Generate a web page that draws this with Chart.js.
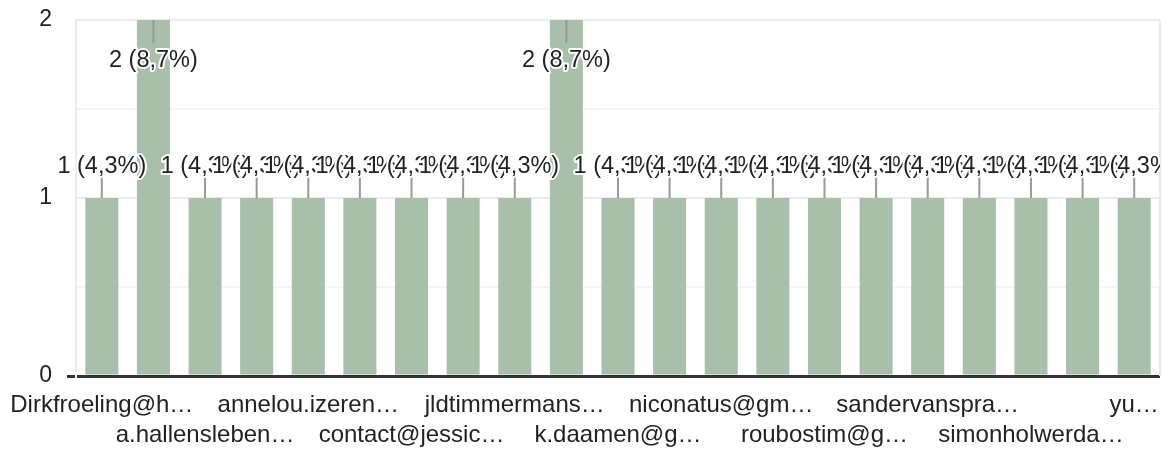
<!DOCTYPE html>
<html>
<head>
<meta charset="utf-8">
<script src="https://cdn.jsdelivr.net/npm/chart.js@4.4.1/dist/chart.umd.min.js"></script>
<style>
  body { margin: 0; background: #fff; }
  canvas { display: block; }
</style>
</head>
<body>
<canvas id="grafico" width="1174" height="454"></canvas>
<script>
// categorie (solo quelle leggibili, le altre sono nascoste dal grafico originale)
var categorie = [
    "Dirkfroeling@h…", "", "a.hallensleben…", "", "annelou.izeren…", "",
    "contact@jessic…", "", "jldtimmermans…", "", "k.daamen@g…", "",
    "niconatus@gm…", "", "roubostim@g…", "", "sandervanspra…", "",
    "simonholwerda…", "", "yu…"
];
var risposte = [1, 2, 1, 1, 1, 1, 1, 1, 1, 2, 1, 1, 1, 1, 1, 1, 1, 1, 1, 1, 1];
var tickY = [0, 1, 2];

var FONT = "'Liberation Sans', Arial, sans-serif";
var totale = risposte.reduce(function(a, b){ return a + b; }, 0);

// etichette sopra le barre, stile Google Forms (con alone bianco)
var etichette = {
    id: "etichette",
    afterDatasetsDraw: function(chart){
        let ctx = chart.ctx;
        let area = chart.chartArea;
        let meta = chart.getDatasetMeta(0);
        ctx.save();
        ctx.beginPath();
        ctx.rect(0, 0, area.right, chart.height);
        ctx.clip();
        ctx.font = "23.5px " + FONT;
        ctx.textAlign = "center";
        ctx.textBaseline = "alphabetic";
        ctx.lineJoin = "round";
        for(let i = 0; i < meta.data.length; i++){
            let bar = meta.data[i];
            let v = risposte[i];
            let testo = v + " (" + (v / totale * 100).toFixed(1).replace(".", ",") + "%)";
            let x = bar.x, yTesto;
            ctx.strokeStyle = "#999999";
            ctx.lineWidth = 2;
            ctx.beginPath();
            if(bar.y <= area.top + 1){
                // barra piena: etichetta dentro
                ctx.moveTo(x, area.top);
                ctx.lineTo(x, area.top + 23);
                yTesto = area.top + 47;
            } else {
                ctx.moveTo(x, bar.y);
                ctx.lineTo(x, bar.y - 21);
                yTesto = bar.y - 25;
            }
            ctx.stroke();
            ctx.lineWidth = 4;
            ctx.strokeStyle = "#ffffff";
            ctx.strokeText(testo, x, yTesto);
            ctx.fillStyle = "#222222";
            ctx.fillText(testo, x, yTesto);
        }
        ctx.restore();
    },
    beforeDatasetsDraw: function(chart){
        let ctx = chart.ctx;
        let area = chart.chartArea;
        ctx.save();
        ctx.strokeStyle = "#ebebeb";
        ctx.lineWidth = 2;
        ctx.beginPath();
        ctx.moveTo(area.right, area.top);
        ctx.lineTo(area.right, area.bottom);
        ctx.stroke();
        ctx.restore();
    }
};

window.onload = function(){
    let canvas = document.getElementById("grafico");
    new Chart(canvas, {
        type: "bar",
        data: {
            labels: categorie,
            datasets: [{
                data: risposte,
                backgroundColor: "#a8bfaa",
                categoryPercentage: 1,
                barPercentage: 0.64
            }]
        },
        options: {
            responsive: false,
            animation: false,
            layout: { padding: { top: 20, right: 14, left: 0, bottom: 0 } },
            plugins: { legend: { display: false }, tooltip: { enabled: false } },
            scales: {
                x: {
                    grid: { display: false },
                    border: { display: false },
                    ticks: {
                        autoSkip: false,
                        maxRotation: 0,
                        padding: 6,
                        color: "#222222",
                        font: { family: FONT, size: 24, lineHeight: 1.25 },
                        callback: function(v, i){
                            let t = categorie[i];
                            if(!t) return "";
                            return (i % 4 === 0) ? [t, ""] : ["", t];
                        }
                    },
                    afterFit: function(s){ s.height = 78; s.paddingLeft = 0; s.paddingRight = 0; }
                },
                y: {
                    min: 0,
                    max: 2,
                    border: { display: true, color: "#ebebeb", width: 2 },
                    grid: {
                        color: function(c){
                            if(c.tick.value === 0) return "#333333";
                            return tickY.includes(c.tick.value) ? "#ebebeb" : "#f5f5f5";
                        },
                        lineWidth: function(c){ return c.tick.value === 0 ? 3 : 2; },
                        drawTicks: true,
                        tickLength: 9,
                        tickColor: function(c){ return c.tick.value === 0 ? "#333333" : "rgba(0,0,0,0)"; }
                    },
                    ticks: {
                        stepSize: 0.5,
                        padding: 15,
                        color: "#222222",
                        font: { family: FONT, size: 23 },
                        callback: function(v){ return tickY.includes(v) ? String(v) : ""; }
                    },
                    afterFit: function(s){ s.width = 76; s.paddingTop = 0; s.paddingBottom = 0; }
                }
            }
        },
        plugins: [etichette]
    });
};
</script>
</body>
</html>
